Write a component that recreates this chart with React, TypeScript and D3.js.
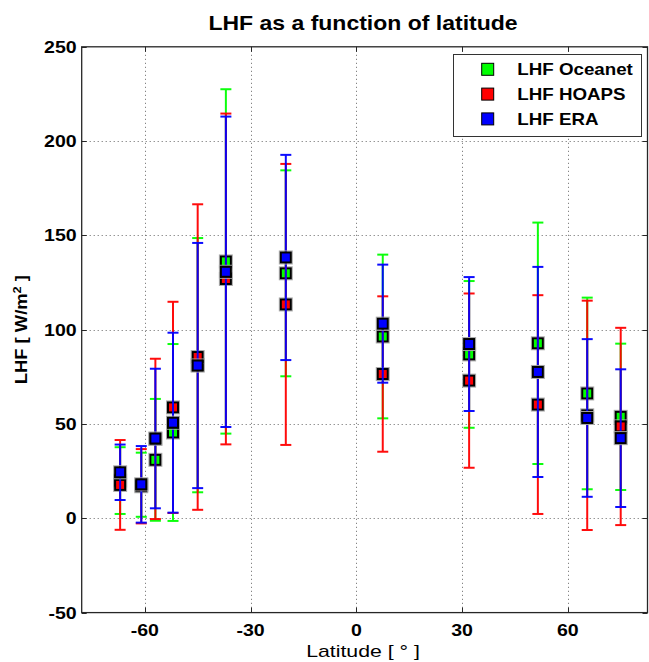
import React from "react";
import * as d3 from "d3";

const latitudes = [-67, -61, -57, -52, -45, -37, -20, 7.5, 32, 51.5, 65.5, 75];

const oceanetMean = [20, 17.8, 31, 45.5, 81.2, 136.2, 129.9, 96.4, 86.9, 92.8, 66.2, 53.8];
const oceanetStd = [17.7, 17, 32.3, 46.9, 67.4, 91.3, 54.6, 43.4, 38.9, 64, 50.8, 38.8];

const hoapsMean = [17.7, 17, 42.1, 58.8, 85.5, 126.9, 113.4, 76.5, 73, 60.3, 54.6, 48.7];
const hoapsStd = [23.8, 19.7, 42.5, 56, 81, 87.7, 74.5, 41.2, 46.2, 58, 60.8, 52.3];

const eraMean = [24.4, 18, 42.3, 50.7, 81, 130.7, 138.3, 103.2, 92.4, 77.6, 53.2, 42.5];
const eraStd = [14.7, 20.3, 37, 47.7, 65, 82.3, 54.4, 31.3, 35.5, 55.7, 41.8, 36.5];

const seriesNames = ["LHF Oceanet", "LHF HOAPS", "LHF ERA"];
const seriesColors = ["#00ff00", "#ff0000", "#0000ff"];

const xTicks = [-60, -30, 0, 30, 60];
const yTicks = [-50, 0, 50, 100, 150, 200, 250];

const FONT = "'Liberation Sans', Arial, Helvetica, sans-serif";

export default function App() {
  const W = 649;
  const H = 662;
  const x = d3.scaleLinear().domain([-77.9, 82.6]).range([81.7, 647.5]);
  const y = d3.scaleLinear().domain([-50, 250]).range([612.6, 46.8]);
  const [x0, x1] = x.range();
  const [yb, yt] = y.range();

  const series = [
    { name: seriesNames[0], color: seriesColors[0], mean: oceanetMean, std: oceanetStd },
    { name: seriesNames[1], color: seriesColors[1], mean: hoapsMean, std: hoapsStd },
    { name: seriesNames[2], color: seriesColors[2], mean: eraMean, std: eraStd },
  ];

  const cap = 5.5;
  const sq = 10;
  const stretch = 1.15;

  const r = (v: number) => Math.round(v) + 0.5;

  return (
    <svg
      width={W}
      height={H}
      style={{ position: "absolute", left: 0, top: 0, background: "#fff" }}
      fontFamily={FONT}
    >
      <rect x={0} y={0} width={W} height={H} fill="#fff" />
      {/* grid */}
      <g stroke="#666" strokeWidth={1} strokeDasharray="1 3">
        {xTicks.map((t) => (
          <line key={"gx" + t} x1={r(x(t))} x2={r(x(t))} y1={yt} y2={yb} />
        ))}
        {yTicks
          .filter((t) => t !== -50 && t !== 250)
          .map((t) => (
            <line key={"gy" + t} x1={x0} x2={x1} y1={r(y(t))} y2={r(y(t))} />
          ))}
      </g>

      {/* data */}
      {series.map((s) => (
        <g key={s.name}>
          {latitudes.map((lat, i) => {
            const cx = x(lat);
            const lo = y(s.mean[i] - s.std[i]);
            const hi = y(s.mean[i] + s.std[i]);
            return (
              <g key={i} stroke={s.color} strokeWidth={2} opacity={0.95}>
                <line x1={cx} x2={cx} y1={lo} y2={hi} />
                <line x1={cx - cap} x2={cx + cap} y1={lo} y2={lo} />
                <line x1={cx - cap} x2={cx + cap} y1={hi} y2={hi} />
              </g>
            );
          })}
          {latitudes.map((lat, i) => {
            const cx = x(lat);
            const cy = y(s.mean[i]);
            return (
              <g key={"m" + i}>
                <rect
                  x={cx - sq / 2 - 1.5}
                  y={cy - sq / 2 - 1.5}
                  width={sq + 3}
                  height={sq + 3}
                  fill="none"
                  stroke="#aaa"
                  strokeWidth={1}
                />
                <rect
                  x={cx - sq / 2}
                  y={cy - sq / 2}
                  width={sq}
                  height={sq}
                  fill={s.color}
                  stroke="#000"
                  strokeWidth={2}
                />
              </g>
            );
          })}
        </g>
      ))}

      {/* axes box */}
      <rect x={x0} y={yt} width={x1 - x0} height={yb - yt} fill="none" stroke="#262626" strokeWidth={1.3} />
      <g stroke="#262626" strokeWidth={1}>
        {xTicks.map((t) => (
          <g key={"tx" + t}>
            <line x1={r(x(t))} x2={r(x(t))} y1={yb} y2={yb - 5} />
            <line x1={r(x(t))} x2={r(x(t))} y1={yt} y2={yt + 5} />
          </g>
        ))}
        {yTicks.map((t) => (
          <g key={"ty" + t}>
            <line x1={x0} x2={x0 + 5} y1={r(y(t))} y2={r(y(t))} />
            <line x1={x1} x2={x1 - 5} y1={r(y(t))} y2={r(y(t))} />
          </g>
        ))}
      </g>

      {/* tick labels */}
      <g fontSize={17} fontWeight="bold" fill="#000">
        {xTicks.map((t) => (
          <text
            key={"lx" + t}
            transform={`translate(${x(t)},${635.5}) scale(${stretch},1)`}
            textAnchor="middle"
          >
            {t}
          </text>
        ))}
        {yTicks.map((t) => (
          <text
            key={"ly" + t}
            transform={`translate(${x0 - 5},${y(t) + 6}) scale(${stretch},1)`}
            textAnchor="end"
          >
            {t}
          </text>
        ))}
      </g>

      {/* title */}
      <text
        transform={`translate(${363},${29.5}) scale(${stretch},1)`}
        textAnchor="middle"
        fontSize={20}
        fontWeight="bold"
      >
        LHF as a function of latitude
      </text>

      {/* x label */}
      <text
        transform={`translate(${363},${656.5}) scale(1.25,1)`}
        textAnchor="middle"
        fontSize={17}
      >
        Latitude [ ° ]
      </text>

      {/* y label */}
      <text
        transform={`translate(${27},${(yt + yb) / 2}) rotate(-90) scale(${stretch},1)`}
        textAnchor="middle"
        fontSize={16}
        fontWeight="bold"
      >
        LHF [ W/m<tspan fontSize={11} dy={-6}>2</tspan>
        <tspan dy={6}> ]</tspan>
      </text>

      {/* legend */}
      <g>
        <rect x={453.5} y={54.5} width={188} height={82} fill="#fff" stroke="#333" strokeWidth={1} />
        {series.map((s, i) => {
          const cy = 69.3 + i * 24.8;
          return (
            <g key={"lg" + i}>
              <rect x={487.7 - 6} y={cy - 6} width={12} height={12} fill={s.color} stroke="#000" strokeWidth={1} />
              <text
                transform={`translate(${517.3},${cy + 5.8}) scale(${stretch},1)`}
                fontSize={16.3}
                fontWeight="bold"
              >
                {s.name}
              </text>
            </g>
          );
        })}
      </g>
    </svg>
  );
}
